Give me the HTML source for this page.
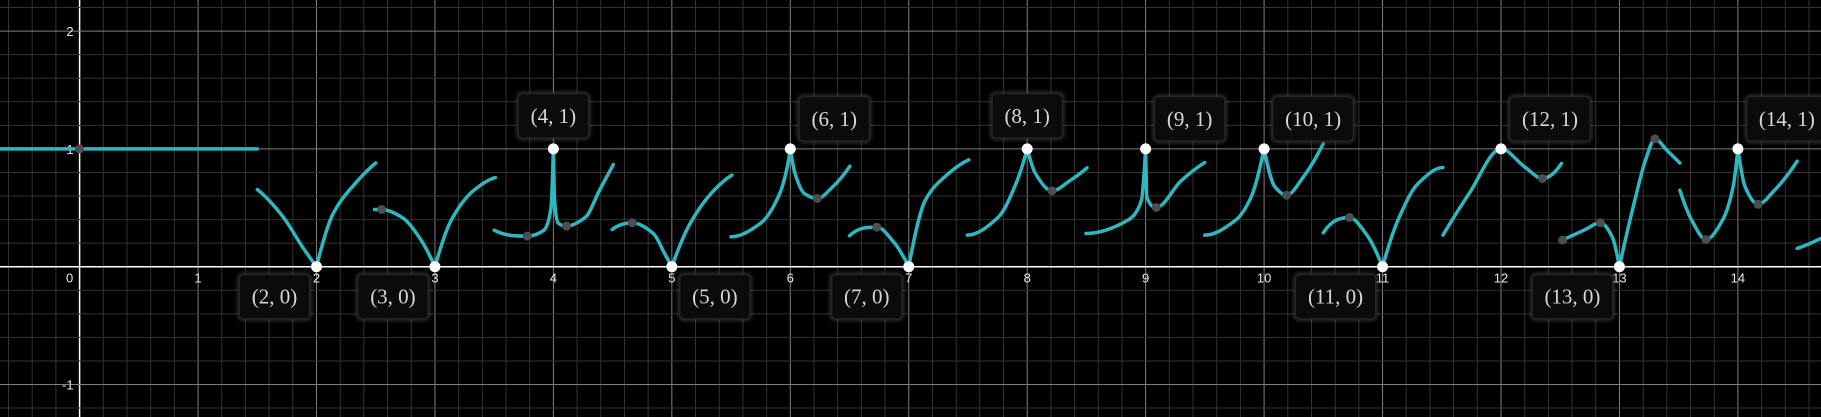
<!DOCTYPE html>
<html><head><meta charset="utf-8"><style>
html,body{margin:0;padding:0;background:#000;}
svg{display:block}
.lbl{font-family:"Liberation Serif",serif;font-size:21px;fill:#d8d8d8}
.tick{font-family:"Liberation Sans",sans-serif;font-size:13px;fill:#e8e8e8}
</style></head><body>
<svg id="chart" width="1821" height="417" viewBox="0 0 1821 417">
<defs><filter id="glow" x="-30%" y="-30%" width="160%" height="160%"><feGaussianBlur stdDeviation="2"/></filter></defs>
<rect width="1821" height="417" fill="#000"/>
<g id="grid"></g><g id="curves"></g><g id="points"></g><g id="labels"></g>
</svg>
<script>
// ----- data -----
const xTicks = [0,1,2,3,4,5,6,7,8,9,10,11,12,13,14];
const yTicks = [2,1,-1];
// each segment is a list of smooth pieces (split at cusps), points [x,y]
const segments = [
 [[[-0.7,1],[1.5,1]]],
 [[[1.5,0.655],[1.72,0.42],[1.88,0.17],[2,0]],[[2,0],[2.14,0.45],[2.33,0.71],[2.5,0.88]]],
 [[[2.49,0.486],[2.55,0.486],[2.72,0.42],[2.88,0.23],[3,0]],[[3,0],[3.14,0.40],[3.33,0.65],[3.51,0.757]]],
 [[[3.5,0.31],[3.78,0.26],[3.92,0.31],[3.98,0.5],[4,1]],[[4,1],[4.01,0.56],[4.04,0.37],[4.11,0.345],[4.27,0.42],[4.39,0.65],[4.506,0.867]]],
 [[[4.496,0.316],[4.667,0.373],[4.845,0.28],[4.94,0.11],[5,0]],[[5,0],[5.14,0.34],[5.33,0.62],[5.507,0.777]]],
 [[[5.5,0.254],[5.75,0.37],[5.91,0.62],[5.975,0.85],[6,1]],[[6,1],[6.04,0.79],[6.12,0.62],[6.228,0.579],[6.36,0.68],[6.503,0.853]]],
 [[[6.5,0.263],[6.73,0.336],[6.88,0.2],[7,0]],[[7,0],[7.14,0.565],[7.30,0.76],[7.507,0.907]]],
 [[[7.494,0.268],[7.755,0.42],[7.915,0.73],[8,1]],[[8,1],[8.07,0.79],[8.21,0.644],[8.36,0.73],[8.505,0.839]]],
 [[[8.496,0.282],[8.85,0.395],[8.965,0.565],[9,1]],[[9,1],[9.01,0.59],[9.09,0.503],[9.30,0.73],[9.498,0.884]]],
 [[[9.498,0.268],[9.76,0.395],[9.89,0.59],[10,1]],[[10,1],[10.09,0.68],[10.19,0.607],[10.33,0.76],[10.5,1.045]]],
 [[[10.5,0.288],[10.72,0.418],[10.86,0.28],[11,0]],[[11,0],[11.13,0.395],[11.30,0.706],[11.51,0.842]]],
 [[[11.51,0.268],[11.73,0.62],[12,1],[12.2,0.847],[12.35,0.749],[12.51,0.876]]],
 [[[12.52,0.226],[12.7,0.31],[12.84,0.373],[12.94,0.25],[13,0]],[[13,0],[13.13,0.565],[13.22,0.904],[13.3,1.085],[13.4,0.989],[13.51,0.88]]],
 [[[13.51,0.65],[13.61,0.395],[13.73,0.23],[13.87,0.395],[13.96,0.68],[14,1]],[[14,1],[14.06,0.68],[14.17,0.53],[14.31,0.65],[14.5,0.895]]],
 [[[14.5,0.155],[14.7,0.24],[14.9,0.36]]]
];
const whiteX = [2,3,4,5,6,7,8,9,10,11,12,13,14];
const whiteY = [0,0,1,0,1,0,1,1,1,0,1,0,1];
const grayX = [0,2.55,3.78,4.11,4.667,6.228,6.73,8.21,9.09,10.19,10.72,12.35,12.52,12.84,13.3,13.73,14.17];
const grayY = [1,0.486,0.26,0.345,0.373,0.579,0.336,0.644,0.503,0.607,0.418,0.749,0.226,0.373,1.085,0.23,0.53];
const labelText = ["(2, 0)","(3, 0)","(4, 1)","(5, 0)","(6, 1)","(7, 0)","(8, 1)","(9, 1)","(10, 1)","(11, 0)","(12, 1)","(13, 0)","(14, 1)"];
const labelSide = ["bl","bl","t","br","tr","bl","t","tr","tr","bl","tr","bl","tr"];

// ----- axes -----
const X0=79.6, XU=118.45, Y0=266.7, YU=117.8;
const sx=x=>X0+x*XU, sy=y=>Y0-y*YU;
const NS="http://www.w3.org/2000/svg";
function mk(tag,attrs,parent){const e=document.createElementNS(NS,tag);for(const k in attrs)e.setAttribute(k,attrs[k]);parent.appendChild(e);return e;}
const grid=document.getElementById('grid');
for(let i=-5;i<=80;i++){const x=sx(i*0.2);if(x<0||x>1821)continue;
 const major=i%5===0;
 const l=mk('line',{x1:x,y1:0,x2:x,y2:417,stroke:i===0?'#fff':(major?'#808080':'#333'),'stroke-width':i===0?1.5:1},grid);
 
 }
for(let i=-12;i<=12;i++){const y=sy(i*0.2);if(y<0||y>417)continue;
 const major=i%5===0;
 const l=mk('line',{x1:0,y1:y,x2:1821,y2:y,stroke:i===0?'#fff':(major?'#808080':'#333'),'stroke-width':i===0?1.5:1},grid);
 
 }
xTicks.forEach(v=>{const t=mk('text',{x:v===0?sx(v)-10:sx(v),y:Y0+16,'text-anchor':'middle',class:'tick'},grid);t.textContent=v;
 
 });
yTicks.forEach(v=>{const t=mk('text',{x:sx(0)-6,y:sy(v)+5,'text-anchor':'end',class:'tick'},grid);t.textContent=v;
 
 });

// ----- curves: monotone cubic per piece with 3-point end slopes -----
function endSlope(h0,h1,d0,d1){let m=((2*h0+h1)*d0-h0*d1)/(h0+h1);
 if(Math.sign(m)!==Math.sign(d0))m=0;else if(Math.sign(d0)!==Math.sign(d1)&&Math.abs(m)>Math.abs(3*d0))m=3*d0;return m;}
function monoPath(p){const n=p.length;const xs=p.map(a=>a[0]),ys=p.map(a=>a[1]);
 if(n<3){return 'M'+sx(xs[0])+','+sy(ys[0])+' L'+sx(xs[1])+','+sy(ys[1]);}
 const d=[],h=[],m=new Array(n);
 for(let i=0;i<n-1;i++){h.push(xs[i+1]-xs[i]);d.push((ys[i+1]-ys[i])/h[i]);}
 m[0]=endSlope(h[0],h[1],d[0],d[1]);
 m[n-1]=endSlope(h[n-2],h[n-3],d[n-2],d[n-3]);
 for(let i=1;i<n-1;i++){if(d[i-1]*d[i]<=0)m[i]=0;else{const w1=2*h[i]+h[i-1],w2=h[i]+2*h[i-1];m[i]=(w1+w2)/(w1/d[i-1]+w2/d[i]);}}
 let s='M'+sx(xs[0])+','+sy(ys[0]);
 for(let i=0;i<n-1;i++){const hh=h[i];
  const c1=[sx(xs[i]+hh/3),sy(ys[i]+m[i]*hh/3)],c2=[sx(xs[i+1]-hh/3),sy(ys[i+1]-m[i+1]*hh/3)];
  s+=' C'+c1+' '+c2+' '+sx(xs[i+1])+','+sy(ys[i+1]);}
 return s;}
const cg=document.getElementById('curves');
segments.forEach(seg=>{let d=seg.map(monoPath).join(' ');
 const p=mk('path',{d:d,fill:'none',stroke:'#2db8c0','stroke-width':3.5,'stroke-linecap':'round','stroke-linejoin':'round'},cg);
 
 });

// ----- points -----
const pg=document.getElementById('points');
grayX.forEach((x,i)=>{const c=mk('circle',{cx:sx(x),cy:sy(grayY[i]),r:4.5,fill:'#4d4d4d'},pg);
 
 });
whiteX.forEach((x,i)=>{const c=mk('circle',{cx:sx(x),cy:sy(whiteY[i]),r:5.5,fill:'#fff'},pg);
 
 });

// ----- labels -----
const lg=document.getElementById('labels');
whiteX.forEach((x,i)=>{const px=sx(x),py=sy(whiteY[i]);const txt=labelText[i];
 const w=txt.length>6?80:70,h=44;let bx,by;const s=labelSide[i];
 if(s==='bl'){bx=px-7-w;by=py+8;}else if(s==='br'){bx=px+8;by=py+8;}
 else if(s==='t'){bx=px-w/2;by=py-55;}else{bx=px+9;by=py-52;}
 const g=mk('g',{},lg);
 
 
 mk('rect',{x:bx,y:by,width:w,height:h,rx:4,fill:'none',stroke:'#444','stroke-width':3,filter:'url(#glow)'},g);
 mk('rect',{x:bx,y:by,width:w,height:h,rx:4,fill:'#0b0b0b',stroke:'#262626','stroke-width':1},g);
 const t=mk('text',{x:bx+w/2,y:by+29,'text-anchor':'middle',class:'lbl'},g);t.textContent=txt;});
</script>
</body></html>
